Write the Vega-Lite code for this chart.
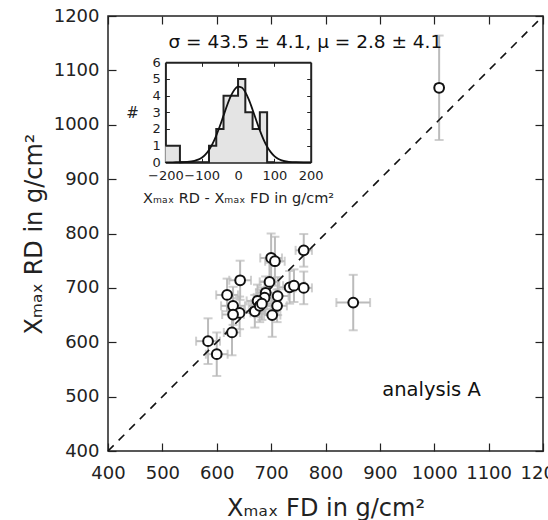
{
  "$schema": "https://vega.github.io/schema/vega-lite/v6.json",
  "width": 435,
  "height": 435,
  "autosize": "none",
  "padding": {"left": 108, "top": 16, "right": 5, "bottom": 69},
  "background": "white",
  "config": {
    "font": "DejaVu Sans",
    "view": {"stroke": "#222", "strokeWidth": 1.5},
    "axis": {"grid": false, "labelColor": "#222", "titleColor": "#222", "tickColor": "#222", "domainColor": "#222", "titleFontWeight": "normal", "labelFlush": false, "labelOverlap": false, "labelBound": false, "format": "d"}
  },
  "datasets": {
    "points": [
      {"fd": 760, "rd": 769, "efd": 15, "erd": 30},
      {"fd": 700, "rd": 755, "efd": 20, "erd": 45},
      {"fd": 707, "rd": 749, "efd": 18, "erd": 45},
      {"fd": 643, "rd": 714, "efd": 20, "erd": 36},
      {"fd": 697, "rd": 711, "efd": 18, "erd": 35},
      {"fd": 734, "rd": 701, "efd": 20, "erd": 30},
      {"fd": 742, "rd": 704, "efd": 20, "erd": 30},
      {"fd": 760, "rd": 700, "efd": 15, "erd": 30},
      {"fd": 619, "rd": 687, "efd": 20, "erd": 30},
      {"fd": 690, "rd": 691, "efd": 18, "erd": 30},
      {"fd": 712, "rd": 685, "efd": 20, "erd": 35},
      {"fd": 688, "rd": 682, "efd": 20, "erd": 30},
      {"fd": 675, "rd": 676, "efd": 20, "erd": 30},
      {"fd": 630, "rd": 667, "efd": 22, "erd": 35},
      {"fd": 711, "rd": 667, "efd": 18, "erd": 30},
      {"fd": 642, "rd": 654, "efd": 20, "erd": 30},
      {"fd": 670, "rd": 657, "efd": 20, "erd": 30},
      {"fd": 630, "rd": 651, "efd": 20, "erd": 30},
      {"fd": 702, "rd": 650, "efd": 15, "erd": 40},
      {"fd": 628, "rd": 618, "efd": 15, "erd": 42},
      {"fd": 584, "rd": 602, "efd": 22, "erd": 42},
      {"fd": 600, "rd": 578, "efd": 20, "erd": 40},
      {"fd": 679, "rd": 667, "efd": 20, "erd": 30},
      {"fd": 851, "rd": 673, "efd": 31, "erd": 51},
      {"fd": 1009, "rd": 1068, "efd": 7, "erd": 96},
      {"fd": 683, "rd": 671, "efd": 20, "erd": 30}
    ],
    "diag": [{"v": 400}, {"v": 1200}],
    "hist": [
      {"edge": -200, "count": 1}, {"edge": -180, "count": 1}, {"edge": -160, "count": 0},
      {"edge": -140, "count": 0}, {"edge": -120, "count": 0}, {"edge": -100, "count": 0},
      {"edge": -80, "count": 1}, {"edge": -60, "count": 2}, {"edge": -40, "count": 4},
      {"edge": -20, "count": 4}, {"edge": 0, "count": 5}, {"edge": 20, "count": 3},
      {"edge": 40, "count": 2}, {"edge": 60, "count": 3}, {"edge": 80, "count": 0},
      {"edge": 100, "count": 0}
    ],
    "gauss": [
      {"gx": -200, "gy": 0.0001}, {"gx": -180, "gy": 0.0007}, {"gx": -160, "gy": 0.004},
      {"gx": -140, "gy": 0.021}, {"gx": -120, "gy": 0.085}, {"gx": -110, "gy": 0.158},
      {"gx": -100, "gy": 0.279}, {"gx": -90, "gy": 0.467}, {"gx": -80, "gy": 0.743},
      {"gx": -70, "gy": 1.122}, {"gx": -60, "gy": 1.605}, {"gx": -50, "gy": 2.178},
      {"gx": -40, "gy": 2.804}, {"gx": -30, "gy": 3.424}, {"gx": -20, "gy": 3.966},
      {"gx": -10, "gy": 4.357}, {"gx": 0, "gy": 4.541}, {"gx": 10, "gy": 4.488},
      {"gx": 20, "gy": 4.208}, {"gx": 30, "gy": 3.742}, {"gx": 40, "gy": 3.156},
      {"gx": 50, "gy": 2.525}, {"gx": 60, "gy": 1.917}, {"gx": 70, "gy": 1.38},
      {"gx": 80, "gy": 0.942}, {"gx": 90, "gy": 0.61}, {"gx": 100, "gy": 0.375},
      {"gx": 110, "gy": 0.218}, {"gx": 120, "gy": 0.121}, {"gx": 140, "gy": 0.0315},
      {"gx": 160, "gy": 0.0066}, {"gx": 180, "gy": 0.0011}, {"gx": 200, "gy": 0.0001}
    ]
  },
  "resolve": {"scale": {"x": "independent", "y": "independent"}, "axis": {"x": "independent", "y": "independent"}},
  "layer": [
    {
      "resolve": {"axis": {"x": "independent", "y": "independent"}},
      "layer": [
        {
          "data": {"name": "points"},
          "mark": {"type": "errorbar", "ticks": {"size": 9, "thickness": 2, "color": "#bbbbbb"}, "rule": {"strokeWidth": 2, "color": "#bbbbbb"}},
          "encoding": {
            "x": {"field": "fd", "type": "quantitative", "scale": {"domain": [400, 1200], "nice": false, "zero": false}, "axis": null},
            "xError": {"field": "efd"},
            "y": {"field": "rd", "type": "quantitative", "scale": {"domain": [400, 1200], "nice": false, "zero": false}, "axis": null}
          }
        },
        {
          "data": {"name": "points"},
          "mark": {"type": "errorbar", "ticks": {"size": 9, "thickness": 2, "color": "#bbbbbb"}, "rule": {"strokeWidth": 2, "color": "#bbbbbb"}},
          "encoding": {
            "y": {"field": "rd", "type": "quantitative", "scale": {"domain": [400, 1200], "nice": false, "zero": false}, "axis": null},
            "yError": {"field": "erd"},
            "x": {"field": "fd", "type": "quantitative", "scale": {"domain": [400, 1200], "nice": false, "zero": false}, "axis": null}
          }
        },
        {
          "data": {"name": "diag"},
          "mark": {"type": "line", "color": "#111", "strokeWidth": 1.6, "strokeDash": [8, 7]},
          "encoding": {
            "x": {"field": "v", "type": "quantitative", "scale": {"domain": [400, 1200], "nice": false, "zero": false},
                  "axis": {"orient": "top", "values": [400, 500, 600, 700, 800, 900, 1000, 1100, 1200], "labels": false, "tickSize": -8, "tickWidth": 1.2, "domain": false, "title": null}},
            "y": {"field": "v", "type": "quantitative", "scale": {"domain": [400, 1200], "nice": false, "zero": false},
                  "axis": {"orient": "right", "values": [400, 500, 600, 700, 800, 900, 1000, 1100, 1200], "labels": false, "tickSize": -8, "tickWidth": 1.2, "domain": false, "title": null}}
          }
        },
        {
          "data": {"name": "points"},
          "mark": {"type": "circle", "fill": "white", "stroke": "#111", "strokeWidth": 2, "size": 95, "opacity": 1},
          "encoding": {
            "x": {"field": "fd", "type": "quantitative", "scale": {"domain": [400, 1200], "nice": false, "zero": false},
                  "axis": {"orient": "bottom", "values": [400, 500, 600, 700, 800, 900, 1000, 1100, 1200], "tickSize": -8, "tickWidth": 1.2, "domain": false, "labelFontSize": 18, "labelPadding": 21, "title": "Xₘₐₓ FD in g/cm²", "titleFontSize": 24, "titlePadding": 14}},
            "y": {"field": "rd", "type": "quantitative", "scale": {"domain": [400, 1200], "nice": false, "zero": false},
                  "axis": {"orient": "left", "values": [400, 500, 600, 700, 800, 900, 1000, 1100, 1200], "tickSize": -8, "tickWidth": 1.2, "domain": false, "labelFontSize": 18, "labelPadding": 17, "title": "Xₘₐₓ RD in g/cm²", "titleFontSize": 24, "titlePadding": 7}}
          }
        },
        {
          "data": {"values": [{"nx": 763, "ny": 1152, "label": "σ = 43.5 ± 4.1, μ = 2.8 ± 4.1"}]},
          "mark": {"type": "text", "fontSize": 18.5, "color": "#111", "align": "center", "baseline": "middle"},
          "encoding": {
            "x": {"field": "nx", "type": "quantitative", "scale": {"domain": [400, 1200], "nice": false, "zero": false}, "axis": null},
            "y": {"field": "ny", "type": "quantitative", "scale": {"domain": [400, 1200], "nice": false, "zero": false}, "axis": null},
            "text": {"field": "label"}
          }
        },
        {
          "data": {"values": [{"nx": 995, "ny": 513, "label": "analysis A"}]},
          "mark": {"type": "text", "fontSize": 19.5, "color": "#111", "align": "center", "baseline": "middle"},
          "encoding": {
            "x": {"field": "nx", "type": "quantitative", "scale": {"domain": [400, 1200], "nice": false, "zero": false}, "axis": null},
            "y": {"field": "ny", "type": "quantitative", "scale": {"domain": [400, 1200], "nice": false, "zero": false}, "axis": null},
            "text": {"field": "label"}
          }
        }
      ]
    },
    {
      "resolve": {"axis": {"x": "independent", "y": "independent"}},
      "layer": [
        {
          "data": {"name": "hist"},
          "mark": {"type": "area", "interpolate": "step-after", "color": "#e4e4e4", "opacity": 1},
          "encoding": {
            "x": {"field": "edge", "type": "quantitative", "scale": {"domain": [-200, 200], "range": [57.4, 202.7], "nice": false, "zero": false},
                  "axis": {"orient": "bottom", "offset": -288.7, "values": [-200, -100, 0, 100, 200], "tickSize": -4, "domainWidth": 2, "labelFontSize": 13, "labelPadding": 11, "title": "Xₘₐₓ RD - Xₘₐₓ FD  in g/cm²", "titleFontSize": 14.5, "titlePadding": 9}},
            "y": {"field": "count", "type": "quantitative", "scale": {"domain": [0, 6], "range": [146.3, 46.3], "nice": false},
                  "axis": {"orient": "left", "offset": -57.4, "values": [0, 1, 2, 3, 4, 5, 6], "tickSize": -4, "domainWidth": 2, "labelFontSize": 13, "labelPadding": 9, "title": "#", "titleAngle": 0, "titleBaseline": "middle", "titleFontSize": 15, "titlePadding": 20}}
          }
        },
        {
          "data": {"name": "hist"},
          "mark": {"type": "line", "interpolate": "step-after", "color": "#222", "strokeWidth": 2},
          "encoding": {
            "x": {"field": "edge", "type": "quantitative", "scale": {"domain": [-200, 200], "range": [57.4, 202.7], "nice": false, "zero": false}, "axis": null},
            "y": {"field": "count", "type": "quantitative", "scale": {"domain": [0, 6], "range": [146.3, 46.3], "nice": false}, "axis": null}
          }
        },
        {
          "data": {"name": "gauss"},
          "mark": {"type": "line", "color": "#111", "strokeWidth": 1.8, "interpolate": "monotone"},
          "encoding": {
            "x": {"field": "gx", "type": "quantitative", "scale": {"domain": [-200, 200], "range": [57.4, 202.7], "nice": false, "zero": false},
                  "axis": {"orient": "top", "offset": -46.3, "values": [-200, -100, 0, 100, 200], "tickSize": -4, "domainWidth": 2, "labels": false, "title": null}},
            "y": {"field": "gy", "type": "quantitative", "scale": {"domain": [0, 6], "range": [146.3, 46.3], "nice": false},
                  "axis": {"orient": "right", "offset": -232.3, "values": [0, 1, 2, 3, 4, 5, 6], "tickSize": -4, "domainWidth": 2, "labels": false, "title": null}}
          }
        }
      ]
    }
  ]
}
